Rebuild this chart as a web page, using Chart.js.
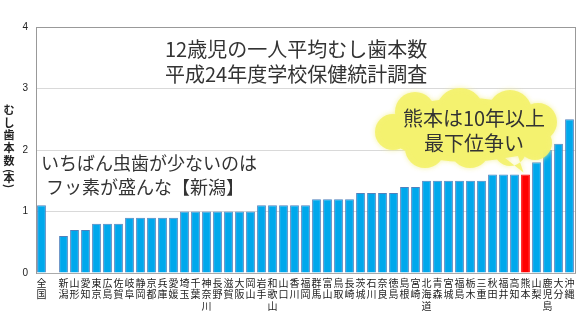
<!DOCTYPE html>
<html>
<head>
<meta charset="utf-8">
<script src="https://cdn.jsdelivr.net/npm/chart.js@4"></script>
<style>
  body { margin: 0; background: #fff; }
  #wrap { width: 580px; height: 330px; }
</style>
</head>
<body>
<div id="wrap"><canvas id="myChart"></canvas></div>
<script>
// 都道府県名（空文字は全国と各県の間のすき間）
var prefs = ['全国', '', '新潟', '山形', '愛知', '東京', '広島', '佐賀', '岐阜', '静岡', '京都', '兵庫', '愛媛',
  '埼玉', '千葉', '神奈川', '長野', '滋賀', '大阪', '岡山', '岩手', '和歌山', '山口', '香川', '福岡',
  '群馬', '富山', '鳥取', '長崎', '茨城', '石川', '奈良', '徳島', '島根', '宮崎', '北海道', '青森',
  '宮城', '福島', '栃木', '三重', '秋田', '福井', '高知', '熊本', '山梨', '鹿児島', '大分', '沖縄'];

// 12歳児の一人平均むし歯本数
var dmft = [1.1, null, 0.6, 0.7, 0.7, 0.8, 0.8, 0.8, 0.9, 0.9, 0.9, 0.9, 0.9,
  1.0, 1.0, 1.0, 1.0, 1.0, 1.0, 1.0, 1.1, 1.1, 1.1, 1.1, 1.1,
  1.2, 1.2, 1.2, 1.2, 1.3, 1.3, 1.3, 1.3, 1.4, 1.4, 1.5, 1.5,
  1.5, 1.5, 1.5, 1.5, 1.6, 1.6, 1.6, 1.6, 1.8, 2.0, 2.1, 2.5];

var yTicks = [0, 1, 2, 3, 4];
var highlight = '熊本';

var titleLines = ['12歳児の一人平均むし歯本数', '平成24年度学校保健統計調査'];
var noteLines = ['いちばん虫歯が少ないのは', 'フッ素が盛んな【新潟】'];
var cloudLines = ['熊本は10年以上', '最下位争い'];
var yTitle = ['む', 'し', '歯', '本', '数', '(', '本', ')'];

var JP = '"Noto Sans CJK JP", "Noto Sans", sans-serif';

var fills = prefs.map(function(p) { return p == highlight ? '#ff0000' : '#00a8ec'; });
var borders = prefs.map(function(p) { return p == highlight ? '#ff0000' : '#4f81bd'; });

var extras = {
  id: 'extras',
  afterDatasetsDraw: function(chart) {
    var ctx = chart.ctx;
    var x = chart.scales.x, y = chart.scales.y;
    ctx.save();

    // 縦書きの軸タイトル（括弧は90度回す）
    ctx.fillStyle = '#222';
    ctx.font = 'bold 11px ' + JP;
    ctx.textAlign = 'center';
    ctx.textBaseline = 'middle';
    var ty = [110, 123, 135, 148, 161, 171, 178, 186];
    for (var i = 0; i < yTitle.length; i++) {
      if (yTitle[i] == '(' || yTitle[i] == ')') {
        ctx.save();
        ctx.translate(9, ty[i]);
        ctx.rotate(Math.PI / 2);
        ctx.fillText(yTitle[i], 0, 0);
        ctx.restore();
      } else {
        ctx.fillText(yTitle[i], 9, ty[i]);
      }
    }

    // 表題
    ctx.fillStyle = '#333';
    ctx.font = '20px ' + JP;
    ctx.textAlign = 'left';
    ctx.fillText(titleLines[0], 165, 49);
    ctx.fillText(titleLines[1], 165, 74);

    // 新潟のコメント
    ctx.font = '18px ' + JP;
    ctx.fillText(noteLines[0], 41, 163);
    ctx.fillText(noteLines[1], 46, 187);

    // 吹き出し（雲形）
    var k = prefs.indexOf(highlight);
    var tipX = x.getPixelForValue(k) - 2;
    var tipY = y.getPixelForValue(dmft[k]) - 2;
    ctx.globalAlpha = 0.9;
    ctx.fillStyle = '#f4f26a';
    ctx.shadowColor = 'rgba(245, 242, 150, 1)';
    ctx.shadowBlur = 5;
    var bumps = [[415, 112, 20], [460, 112, 24], [510, 112, 22], [538, 122, 19], [535, 143, 17],
      [510, 150, 16], [470, 148, 20], [425, 148, 20], [393, 132, 18]];
    ctx.beginPath();
    ctx.ellipse(466, 130, 80, 32, 0, 0, Math.PI * 2);
    bumps.forEach(function(b) {
      ctx.moveTo(b[0] + b[2], b[1]);
      ctx.arc(b[0], b[1], b[2], 0, Math.PI * 2);
    });
    ctx.moveTo(505, 158);
    ctx.lineTo(tipX, tipY);
    ctx.lineTo(518, 156);
    ctx.closePath();
    ctx.fill();
    ctx.shadowBlur = 0;
    ctx.globalAlpha = 1;

    ctx.fillStyle = '#333';
    ctx.font = '20px ' + JP;
    ctx.textAlign = 'center';
    ctx.fillText(cloudLines[0], 474, 118);
    ctx.fillText(cloudLines[1], 474, 143);

    ctx.restore();
  }
};

var ctx = document.getElementById('myChart').getContext('2d');
var myChart = new Chart(ctx, {
  type: 'bar',
  data: {
    labels: prefs.map(function(p) { return p.split(''); }),
    datasets: [{
      data: dmft,
      backgroundColor: fills,
      borderColor: borders,
      borderWidth: 1,
      barPercentage: 0.8,
      categoryPercentage: 1.0
    }]
  },
  options: {
    responsive: true,
    maintainAspectRatio: false,
    animation: false,
    layout: { padding: { left: 0, top: 27, right: 5, bottom: 0 } },
    plugins: { legend: { display: false }, tooltip: { enabled: false } },
    scales: {
      x: {
        grid: { display: false, drawTicks: false },
        border: { color: '#aaa' },
        ticks: {
          autoSkip: false,
          maxRotation: 0,
          minRotation: 0,
          color: '#222',
          padding: 4,
          font: { size: 10, family: JP, lineHeight: 1.15 }
        },
        afterFit: function(scale) { scale.height = 57; }
      },
      y: {
        min: 0,
        max: 4,
        afterBuildTicks: function(scale) {
          scale.ticks = yTicks.map(function(v) { return { value: v }; });
        },
        grid: {
          color: function(c) { return c.tick.value == 4 ? '#999' : '#d9d9d9'; },
          drawTicks: false
        },
        border: { color: '#999' },
        ticks: {
          color: '#222',
          padding: 8,
          font: { size: 10, family: 'Arial, sans-serif' }
        },
        afterFit: function(scale) { scale.width = 36; }
      }
    }
  },
  plugins: [extras, {
    id: 'rightBorder',
    beforeDatasetsDraw: function(chart) {
      var a = chart.chartArea, c = chart.ctx;
      c.save();
      c.strokeStyle = '#999';
      c.lineWidth = 1;
      c.beginPath();
      c.moveTo(Math.round(a.right) + 0.5, a.top);
      c.lineTo(Math.round(a.right) + 0.5, a.bottom);
      c.stroke();
      c.restore();
    }
  }]
});
</script>
</body>
</html>
